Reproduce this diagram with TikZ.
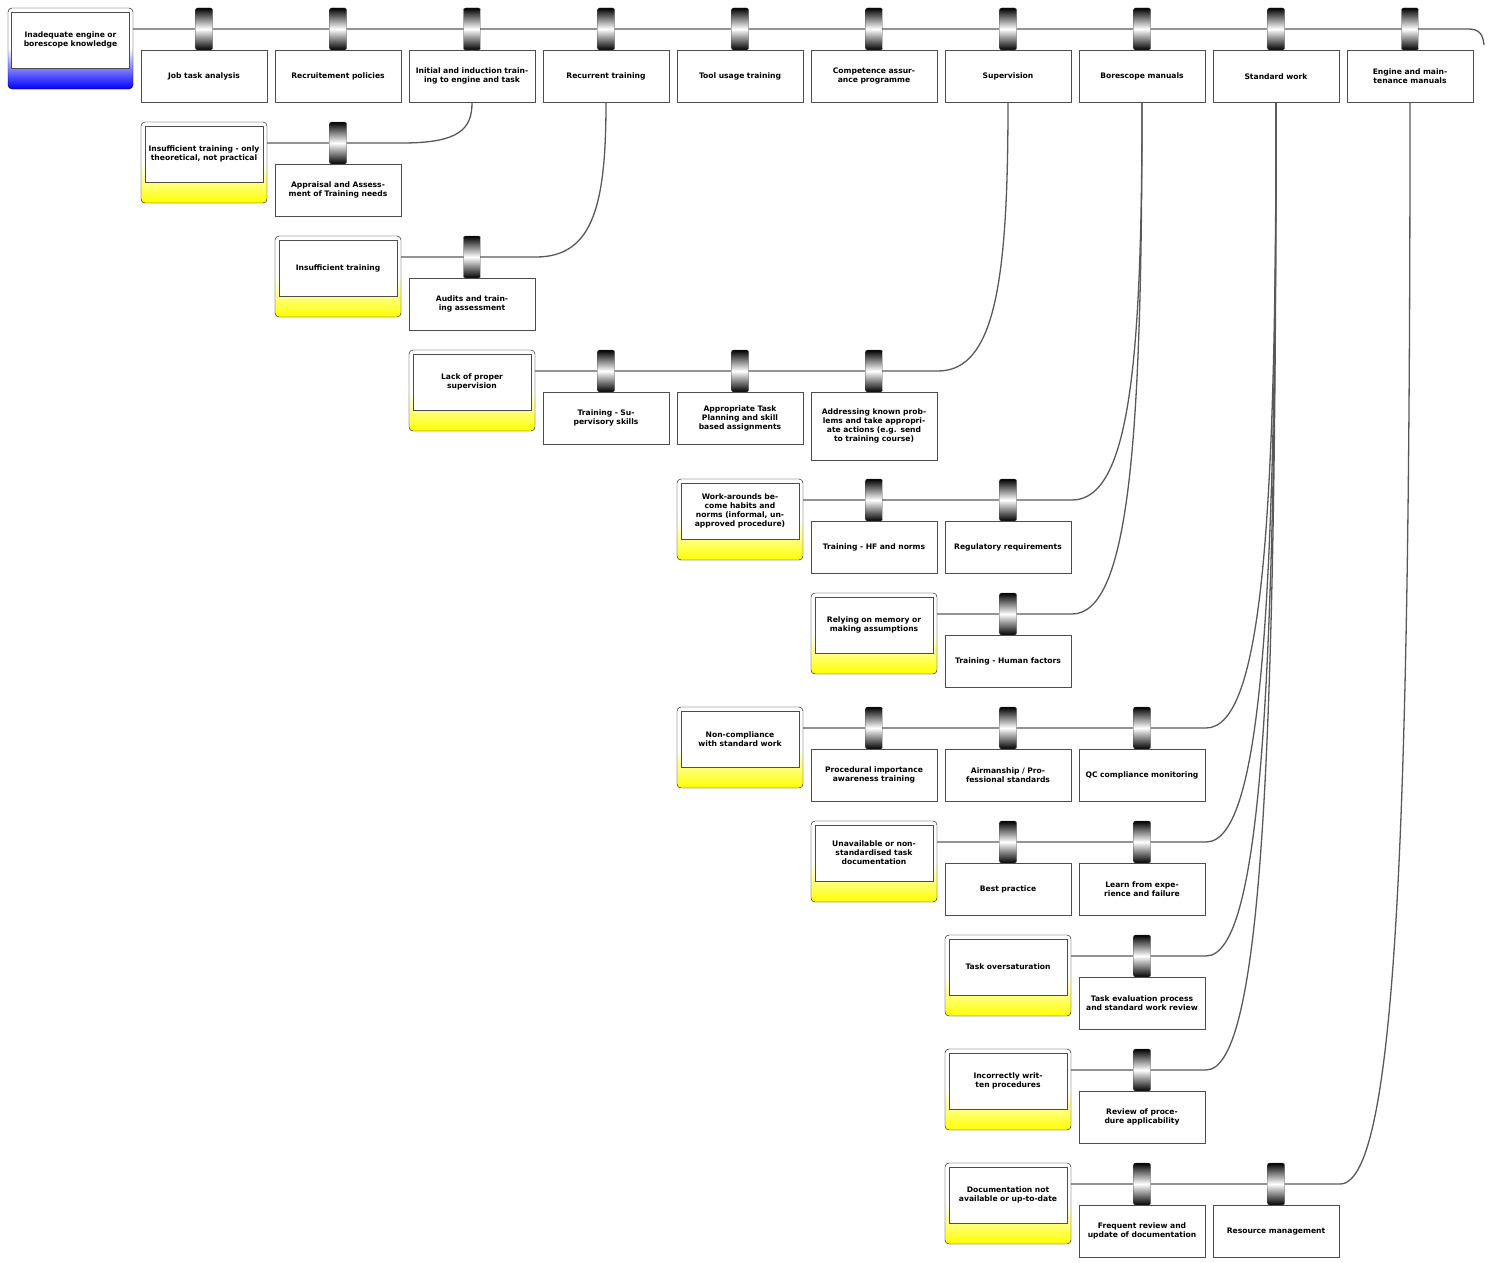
\documentclass[tikz,border=0pt]{standalone}
\usepackage{fontspec}
\setmainfont{DejaVu Sans}
\begin{document}
\begin{tikzpicture}[x=1pt,y=-1pt,
  font=\bfseries\fontsize{7.6}{9}\selectfont,
  ln/.style={draw=black!65,line width=1.3pt},
  ctl/.style={draw=black!70,fill=white,minimum width=126pt,minimum height=52pt,text width=118pt,align=center,inner sep=1pt},
  bar/.style={draw=black!70,rounded corners=2pt,minimum width=17pt,minimum height=42pt,top color=black,bottom color=black,middle color=white,inner sep=0pt},
  outer/.style={draw=black,rounded corners=4pt,minimum width=126pt,minimum height=81pt,inner sep=0pt},
  thr/.style={outer,top color=white,bottom color=yellow,middle color=white,shading angle=0},
  inner/.style={draw=black!70,fill=white,minimum width=118pt,minimum height=56pt,text width=114pt,align=center,inner sep=1pt}]
\useasboundingbox (0,0) rectangle (1491,1263);
\def\cx#1{\numexpr204+134*#1\relax}
% barrier+control: name, col, line y, text
\newcommand\bctl[5][52]{%
  \pgfmathsetmacro\xx{204+134*#3}%
  \node[bar] (b#2) at (\xx,#4) {};
  \node[ctl,minimum height=#1pt,anchor=north] (c#2) at (\xx,#4+21) {#5};}
\newcommand\threat[5][yellow]{%
  \pgfmathsetmacro\xx{204+134*#3}%
  \node[outer,top color=white,bottom color=#1,middle color=white] (t#2) at (\xx,#4+19.5) {};
  \node[inner] (ti#2) at (\xx,#4+11) {#5};}
\newcommand\link[3]{% threat name, line y, target col
  \pgfmathsetmacro\tx{204+134*#3}%
  \draw[ln] (t#1.east|-0,#2) -- (\tx-70,#2) .. controls (\tx-12,#2) and (\tx,#2-0.35*#2+0.35*102) .. (c0#3.south);}
% top controls
\foreach \i in {0,...,9}{\pgfmathsetmacro\xx{204+134*\i}\coordinate (p\i) at (\xx,29);}
\node[outer,top color=white,bottom color=blue,middle color=white,minimum width=125pt] (top) at (70.5,48.5) {};
\node[inner] (topi) at (70.5,40) {Inadequate engine or borescope knowledge};
\coordinate (endR) at (1484,45);
\draw[ln] (top.east|-0,29) -- (1468,29) .. controls (1478,29) and (1483,33) .. (endR);
% connection lines
\foreach \i/\t in {0/{Job task analysis},1/{Recruitement policies},2/{Initial and induction training to engine and task},3/{Recurrent training},4/{Tool usage training},5/{Competence assurance programme},6/{Supervision},7/{Borescope manuals},8/{Standard work},9/{Engine and maintenance manuals}}{
  \pgfmathsetmacro\xx{204+134*\i}
  \node[ctl,anchor=north] (c0\i) at (\xx,50) {\t};
  \node[bar] (b0\i) at (\xx,29) {};}
% threats
\threat{1}{0}{143}{Insufficient training - only theoretical, not practical}
\threat{2}{1}{257}{Insufficient training}
\threat{3}{2}{371}{Lack of proper supervision}
\threat{4}{4}{500}{Work-arounds become habits and norms (informal, unapproved procedure)}
\threat{5}{5}{614}{Relying on memory or making assumptions}
\threat{6}{4}{728}{Non-compliance with standard work}
\threat{7}{5}{842}{Unavailable or non-standardised task documentation}
\threat{8}{6}{956}{Task oversaturation}
\threat{9}{6}{1070}{Incorrectly written procedures}
\threat{10}{6}{1184}{Documentation not available or up-to-date}
\link{1}{143}{2}\link{2}{257}{3}\link{3}{371}{6}\link{4}{500}{7}\link{5}{614}{7}
\link{6}{728}{8}\link{7}{842}{8}\link{8}{956}{8}\link{9}{1070}{8}\link{10}{1184}{9}
% barriers
\bctl{11}{1}{143}{Appraisal and Assessment of Training needs}
\bctl{21}{2}{257}{Audits and training assessment}
\bctl{31}{3}{371}{Training - Supervisory skills}
\bctl{32}{4}{371}{Appropriate Task Planning and skill based assignments}
\bctl[68]{33}{5}{371}{Addressing known problems and take appropriate actions (e.g. send to training course)}
\bctl{41}{5}{500}{Training - HF and norms}
\bctl{42}{6}{500}{Regulatory requirements}
\bctl{51}{6}{614}{Training - Human factors}
\bctl{61}{5}{728}{Procedural importance awareness training}
\bctl{62}{6}{728}{Airmanship / Professional standards}
\bctl{63}{7}{728}{QC compliance monitoring}
\bctl{71}{6}{842}{Best practice}
\bctl{72}{7}{842}{Learn from experience and failure}
\bctl{81}{7}{956}{Task evaluation process and standard work review}
\bctl{91}{7}{1070}{Review of procedure applicability}
\bctl{101}{7}{1184}{Frequent review and update of documentation}
\bctl{102}{8}{1184}{Resource management}
\end{tikzpicture}
\end{document}
